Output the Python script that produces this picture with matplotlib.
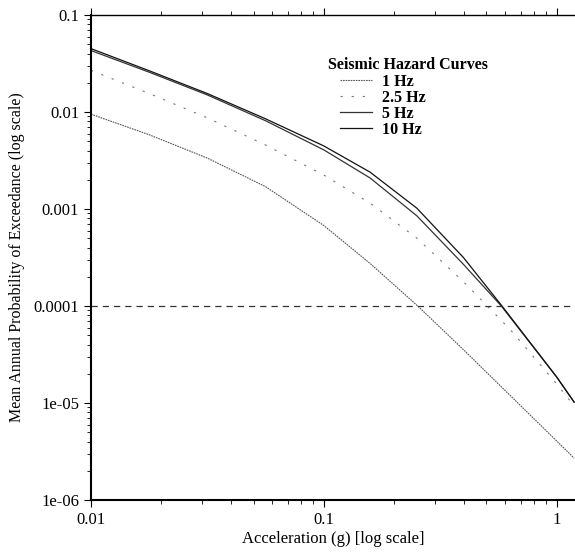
import numpy as np
import matplotlib
matplotlib.use('Agg')
import matplotlib.pyplot as plt
from matplotlib.ticker import FixedLocator, FixedFormatter, LogLocator, NullFormatter

plt.rcParams['font.family'] = 'Liberation Serif'

# Hazard curves (acceleration in g, annual probability)
acc = [0.01, 0.0178, 0.0316, 0.0562, 0.1, 0.158, 0.251, 0.398, 0.631, 1.0, 1.19]
p_1hz = [0.0095, 0.00582, 0.00335, 0.0017, 0.000676, 0.000275, 0.000102,
         3.55e-5, 1.2e-5, 4.07e-6, 2.7e-6]
p_2p5hz = [0.0269, 0.0155, 0.0087, 0.00457, 0.00224, 0.00115, 0.000501,
           0.000178, 5.75e-5, 1.58e-5, 9.3e-6]

acc_hi = [0.01, 0.0178, 0.0316, 0.0562, 0.1, 0.158, 0.251, 0.398, 0.579, 1.0, 1.19]
p_5hz = [0.043, 0.0257, 0.015, 0.00813, 0.00407, 0.00209, 0.000851,
         0.000269, 0.0001, 1.86e-5, 1.02e-5]
p_10hz = [0.045, 0.0266, 0.0155, 0.00851, 0.00447, 0.0024, 0.00102,
          0.000316, 0.000102, 1.86e-5, 1.02e-5]

target_p = 1e-4

ytick_vals = [1e-6, 1e-5, 1e-4, 1e-3, 1e-2, 1e-1]
ytick_labels = ['1e-06', '1e-05', '0.0001', '0.001', '0.01', '0.1']
xtick_vals = [0.01, 0.1, 1]
xtick_labels = ['0.01', '0.1', '1']

W, H = 575, 554
fig = plt.figure(figsize=(W / 100, H / 100), dpi=100)
ax = fig.add_axes([91 / W, 1 - 500 / H, 1 - 91 / W, 485 / H])

ax.plot(acc, p_1hz, color='#555555', lw=0.8, ls=(0, (1.5, 0.8)), label='1 Hz')
ax.plot(acc, p_2p5hz, color='#777777', lw=0.8, ls=(0, (2, 8)), label='2.5 Hz')
ax.plot(acc_hi, p_5hz, color='#333333', lw=0.9, label='5 Hz')
ax.plot(acc_hi, p_10hz, color='#111111', lw=0.9, label='10 Hz')
ax.axhline(target_p, color='#333333', lw=0.9, ls=(0, (5, 4)))

ax.set_xscale('log')
ax.set_yscale('log')
ax.set_xlim(0.01, 1.2)
ax.set_ylim(1e-6, 0.1)

ax.yaxis.set_major_locator(FixedLocator(ytick_vals))
ax.yaxis.set_major_formatter(FixedFormatter(ytick_labels))
ax.xaxis.set_major_locator(FixedLocator(xtick_vals))
ax.xaxis.set_major_formatter(FixedFormatter(xtick_labels))
ax.yaxis.set_minor_locator(LogLocator(base=10, subs=np.arange(2, 10)))
ax.xaxis.set_minor_locator(LogLocator(base=10, subs=np.arange(2, 10)))
ax.yaxis.set_minor_formatter(NullFormatter())
ax.xaxis.set_minor_formatter(NullFormatter())

ax.tick_params(which='major', length=5, width=0.8, labelsize=12, top=True, direction='out')
ax.tick_params(which='minor', length=3, width=0.6, top=True, direction='out')
ax.spines['right'].set_visible(False)
ax.spines['left'].set_linewidth(1.5)
ax.spines['bottom'].set_linewidth(1.5)
ax.spines['top'].set_linewidth(1.0)

ax.set_xlabel('Acceleration (g) [log scale]', fontsize=12, labelpad=2)
ax.set_ylabel('Mean Annual Probability of Exceedance (log scale)', fontsize=11.5, labelpad=6)

# legend title sits left of the entries, so draw it as plain text
fig.text(328 / W, 1 - 65 / H, 'Seismic Hazard Curves', fontsize=11.5, fontweight='bold',
         ha='left', va='center')
leg = ax.legend(loc='upper left', bbox_to_anchor=(340 / W, 1 - 74 / H),
                bbox_transform=fig.transFigure, frameon=False, fontsize=11.5,
                handlelength=2.0, labelspacing=0.0, borderpad=0, borderaxespad=0,
                handletextpad=0.65)
for t in leg.get_texts():
    t.set_fontweight('bold')

fig.savefig('out.png', dpi=100)
